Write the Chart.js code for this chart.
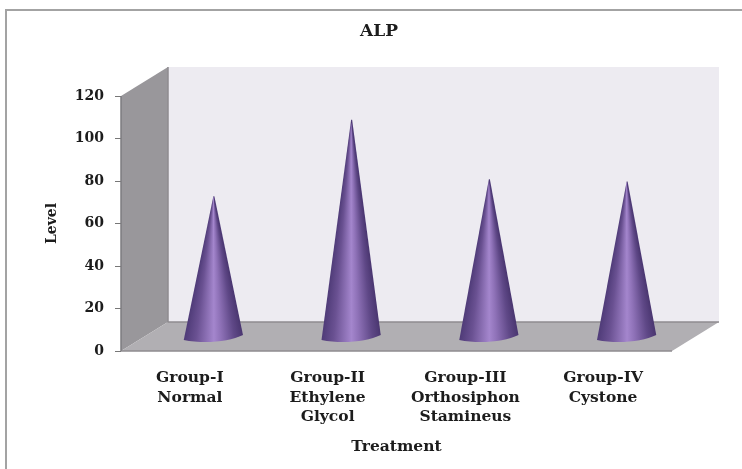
<!DOCTYPE html>
<html>
<head>
<meta charset="utf-8">
<title>ALP</title>
<script src="https://cdn.jsdelivr.net/npm/chart.js@4/dist/chart.umd.min.js"></script>
<style>
html, body { margin: 0; padding: 0; background: #fff; }
#wrap { width: 742px; height: 469px; position: relative; overflow: hidden; }
</style>
</head>
<body>
<div id="wrap"><canvas id="chart" width="742" height="469"></canvas></div>
<script>
var categories = [
    ['Group-I', 'Normal'],
    ['Group-II', 'Ethylene', 'Glycol'],
    ['Group-III', 'Orthosiphon', 'Stamineus'],
    ['Group-IV', 'Cystone']
]
var levels = [66, 102, 74, 73]
var yTicks = [0, 20, 40, 60, 80, 100, 120]

var serif = '"DejaVu Serif", serif'
var inkColor = '#1c1c1c'
var depthX = 47
var depthY = 29

// walls and floor of the 3d box, taken from the scales
var boxPlugin = {
    id: 'box',
    beforeDatasetsDraw: function (chart) {
        var c = chart.ctx
        var a = chart.chartArea
        function poly(pts, fill) {
            c.beginPath()
            c.moveTo(pts[0][0], pts[0][1])
            for (var i = 1; i < pts.length; i++) c.lineTo(pts[i][0], pts[i][1])
            c.closePath()
            c.fillStyle = fill
            c.fill()
        }
        c.save()
        poly([[a.left + depthX, a.top - depthY], [a.right + depthX, a.top - depthY],
              [a.right + depthX, a.bottom - depthY], [a.left + depthX, a.bottom - depthY]], '#edebf1')
        poly([[a.left, a.top], [a.left + depthX, a.top - depthY],
              [a.left + depthX, a.bottom - depthY], [a.left, a.bottom]], '#99979b')
        poly([[a.left, a.bottom], [a.left + depthX, a.bottom - depthY],
              [a.right + depthX, a.bottom - depthY], [a.right, a.bottom]], '#b1afb3')
        c.strokeStyle = '#8e8c90'
        c.lineWidth = 1.5
        c.beginPath()
        c.moveTo(a.left + depthX, a.top - depthY)
        c.lineTo(a.left + depthX, a.bottom - depthY)
        c.lineTo(a.right + depthX, a.bottom - depthY)
        c.moveTo(a.left, a.bottom)
        c.lineTo(a.right, a.bottom)
        c.stroke()
        c.strokeStyle = '#7d7b7f'
        c.beginPath()
        c.moveTo(a.left, a.top)
        c.lineTo(a.left, a.bottom)
        c.stroke()
        c.restore()
    }
}

// cones sit on the bar elements: tip at the value, base at zero, pushed back half the depth
var conePlugin = {
    id: 'cones',
    afterDatasetsDraw: function (chart) {
        var c = chart.ctx
        chart.getDatasetMeta(0).data.forEach(function (bar) {
            var cx = bar.x + depthX / 2
            var tip = bar.y - depthY / 2
            var base = bar.base - depthY / 2
            var r = bar.width / 2
            // shading converges on the tip, so a conic gradient rather than a linear one
            var rightAngle = Math.atan2(base - 1 - tip, r)
            var leftAngle = Math.atan2(base + 4 - tip, -r)
            var span = (leftAngle - rightAngle) / (2 * Math.PI)
            var g = c.createConicGradient(rightAngle, cx, tip)
            g.addColorStop(0, '#4a3670')
            g.addColorStop(0.15 * span, '#5f4887')
            g.addColorStop(0.38 * span, '#8f72b8')
            g.addColorStop(0.5 * span, '#a486cd')
            g.addColorStop(0.8 * span, '#6a5192')
            g.addColorStop(span, '#4f3b78')
            g.addColorStop(1, '#4f3b78')
            c.save()
            c.beginPath()
            c.moveTo(cx, tip)
            c.lineTo(cx + 1, tip)
            c.lineTo(cx + r, base - 1)
            c.bezierCurveTo(cx + r - 14, base + 6, cx - r + 20, base + 8, cx - r, base + 4)
            c.closePath()
            c.fillStyle = g
            c.fill()
            c.restore()
        })
    }
}

new Chart(document.getElementById('chart'), {
    type: 'bar',
    data: {
        labels: categories,
        datasets: [{
            label: 'ALP',
            data: levels,
            backgroundColor: 'rgba(0,0,0,0)',
            categoryPercentage: 1,
            barPercentage: 0.43
        }]
    },
    plugins: [boxPlugin, conePlugin, {
        id: 'frame',
        beforeDraw: function (chart) {
            var c = chart.ctx
            c.save()
            c.fillStyle = '#a3a3a3'
            c.fillRect(5, 9, chart.width - 5, 2)
            c.fillRect(5, 9, 2, chart.height - 9)
            c.restore()
        },
        // title sits right of the plot block's centre in the original
        afterLayout: function (chart) {
            chart.titleBlock.left += 21
            chart.titleBlock.right += 21
        }
    }],
    options: {
        responsive: false,
        animation: false,
        layout: { padding: { left: 44, right: 70, top: 21, bottom: 13 } },
        plugins: {
            legend: { display: false },
            tooltip: { enabled: false },
            title: {
                display: true,
                text: 'ALP',
                color: inkColor,
                font: { family: serif, size: 17, weight: 'bold' },
                padding: { top: 0, bottom: 54.6 }
            }
        },
        scales: {
            x: {
                border: { display: false },
                grid: { display: false, drawTicks: false },
                ticks: {
                    color: inkColor,
                    maxRotation: 0,
                    autoSkip: false,
                    padding: 17,
                    font: { family: serif, size: 15.5, weight: 'bold', lineHeight: 1.27 }
                },
                title: {
                    display: true,
                    text: 'Treatment',
                    color: inkColor,
                    font: { family: serif, size: 15.5, weight: 'bold' },
                    padding: { top: 0, bottom: 0 }
                },
                afterFit: function (s) { s.height = 105 }
            },
            y: {
                min: 0,
                max: 120,
                afterBuildTicks: function (s) {
                    s.ticks = yTicks.map(function (v) { return { value: v } })
                },
                border: { display: false },
                grid: {
                    drawOnChartArea: false,
                    drawTicks: true,
                    tickLength: 6,
                    color: '#777'
                },
                ticks: {
                    color: inkColor,
                    padding: 11,
                    font: { family: serif, size: 14, weight: 'bold' }
                },
                title: {
                    display: true,
                    text: 'Level',
                    color: inkColor,
                    font: { family: serif, size: 14, weight: 'bold' },
                    padding: { top: 0, bottom: 0 }
                },
                afterFit: function (s) { s.width = 77 }
            }
        }
    }
})
</script>
</body>
</html>
